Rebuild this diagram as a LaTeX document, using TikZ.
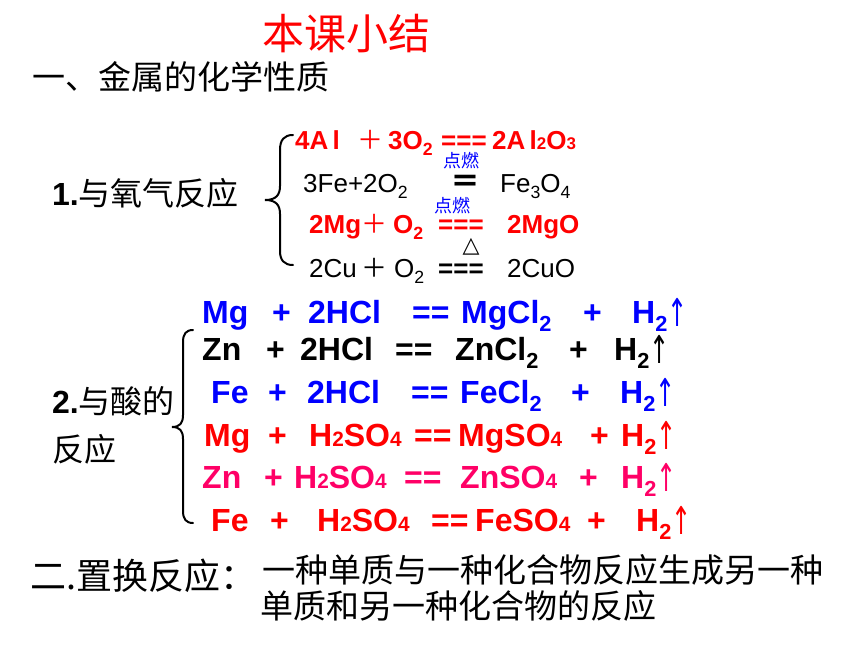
\documentclass[tikz,border=0pt]{standalone}
\usepackage{fontspec}
\setmainfont{Liberation Sans}
\newfontfamily\cjk{Noto Sans CJK SC}
\newfontfamily\symf{DejaVu Sans}
\definecolor{eqred}{RGB}{255,0,0}
\definecolor{eqblue}{RGB}{0,0,255}
\definecolor{eqpink}{RGB}{255,0,102}
\newcommand{\dn}[1]{\raisebox{-0.25em}{\scalebox{0.68}{#1}}}
\newcommand{\sm}[1]{\scalebox{0.65}{#1}}
\newcommand{\gas}{\raisebox{-0.12em}{\scalebox{0.75}[1.2]{\symf\mdseries ↑}}}
\tikzset{
  acid/.style={anchor=base west, inner sep=0pt, font=\fontsize{32}{32}\selectfont\bfseries},
  oxy/.style={anchor=base west, inner sep=0pt, font=\fontsize{26}{26}\selectfont},
  cond/.style={inner sep=0pt, text=eqblue, font=\cjk\fontsize{18}{18}\selectfont},
  zh/.style={anchor=west, inner sep=0pt, font=\cjk\fontsize{33}{33}\selectfont},
  bracket/.style={line width=2pt, line cap=round},
}

\begin{document}
\begin{tikzpicture}[x=1pt, y=-1pt]
		\useasboundingbox (0,0) rectangle (860,645);
		
		%%%%% HEADINGS %%%%%
		\node[zh, text=eqred, font=\cjk\fontsize{42}{42}\selectfont] (title) at (262,34) {本课小结};
		\node[zh] (partone) at (32,77) {一、金属的化学性质};
		
		%%%%% 1. OXYGEN %%%%%
		\node[zh, font=\cjk\fontsize{32}{32}\selectfont] (oxlabel) at (52,193) {{\normalfont\fontsize{32}{32}\selectfont\bfseries 1.}与氧气反应};
		\draw[bracket] (293,135) .. controls (284,135) and (280,140) .. (280,150) -- (280,186) .. controls (280,195) and (276,200) .. (265,200) .. controls (276,200) and (280,205) .. (280,214) -- (280,251) .. controls (280,260) and (284,265) .. (293,265);
		
		\node[oxy, text=eqred, font=\fontsize{26}{26}\selectfont\bfseries] (alA) at (295,149) {4A\,l};
		\node[oxy, text=eqred, font=\cjk\fontsize{26}{26}\selectfont] (alB) at (357,149) {＋};
		\node[oxy, text=eqred, font=\fontsize{26}{26}\selectfont\bfseries] (alC) at (388,149) {3O\dn{2}};
		\node[oxy, text=eqred, font=\fontsize{26}{26}\selectfont\bfseries] (alD) at (441,149) {===};
		\node[oxy, text=eqred, font=\fontsize{26}{26}\selectfont\bfseries] (alE) at (492,149) {2A\,l\sm{2}O\sm{3}};
		
		\node[cond] (fireA) at (461,161) {点燃};
		\node[oxy] (feA) at (303,192) {3Fe+2O\dn{2}};
		\node[oxy, font=\cjk\fontsize{30}{30}\selectfont\bfseries] (feB) at (450,192) {＝};
		\node[oxy] (feC) at (500,192) {Fe\dn{3}O\dn{4}};
		
		\node[cond] (fireB) at (452,206) {点燃};
		\node[oxy, text=eqred, font=\fontsize{26}{26}\selectfont\bfseries] (mgA) at (309,233) {2Mg};
		\node[oxy, text=eqred, font=\cjk\fontsize{26}{26}\selectfont] (mgB) at (361,233) {＋};
		\node[oxy, text=eqred, font=\fontsize{26}{26}\selectfont\bfseries] (mgC) at (393,233) {O\dn{2}};
		\node[oxy, text=eqred, font=\fontsize{26}{26}\selectfont\bfseries] (mgD) at (438,233) {===};
		\node[oxy, text=eqred, font=\fontsize{26}{26}\selectfont\bfseries] (mgE) at (507,233) {2MgO};
		
		\node[inner sep=0pt, font=\symf\fontsize{22}{22}\selectfont] (heat) at (471,247) {△};
		\node[oxy] (cuA) at (309,277) {2Cu};
		\node[oxy, font=\cjk\fontsize{26}{26}\selectfont] (cuB) at (361,277) {＋};
		\node[oxy] (cuC) at (394,277) {O\dn{2}};
		\node[oxy, font=\fontsize{26}{26}\selectfont\bfseries] (cuD) at (438,277) {===};
		\node[oxy] (cuE) at (507,277) {2CuO};
		
		%%%%% 2. ACIDS %%%%%
		\node[zh, font=\cjk\fontsize{32}{32}\selectfont] (aclabelA) at (52,401) {{\normalfont\fontsize{32}{32}\selectfont\bfseries 2.}与酸的};
		\node[zh, font=\cjk\fontsize{32}{32}\selectfont] (aclabelB) at (52,449) {反应};
		\draw[bracket] (193,330) .. controls (186,330) and (183,334) .. (183,342) -- (183,415) .. controls (183,423) and (180,427) .. (172,427) .. controls (180,427) and (183,431) .. (183,439) -- (183,511) .. controls (183,519) and (186,523) .. (193,523);
		
		\node[acid, text=eqblue] (r1a) at (202,323) {Mg};
		\node[acid, text=eqblue] (r1b) at (272,323) {+};
		\node[acid, text=eqblue] (r1c) at (308,323) {2HCl};
		\node[acid, text=eqblue] (r1d) at (412,323) {==};
		\node[acid, text=eqblue] (r1e) at (461,323) {MgCl\dn{2}};
		\node[acid, text=eqblue] (r1f) at (583,323) {+};
		\node[acid, text=eqblue] (r1g) at (632,323) {H\dn{2}\gas};
		
		\node[acid] (r2a) at (202,360) {Zn};
		\node[acid] (r2b) at (266,360) {+};
		\node[acid] (r2c) at (300,360) {2HCl};
		\node[acid] (r2d) at (395,360) {==};
		\node[acid] (r2e) at (455,360) {ZnCl\dn{2}};
		\node[acid] (r2f) at (569,360) {+};
		\node[acid] (r2g) at (614,360) {H\dn{2}\gas};
		
		\node[acid, text=eqblue] (r3a) at (211,403) {Fe};
		\node[acid, text=eqblue] (r3b) at (268,403) {+};
		\node[acid, text=eqblue] (r3c) at (307,403) {2HCl};
		\node[acid, text=eqblue] (r3d) at (411,403) {==};
		\node[acid, text=eqblue] (r3e) at (460,403) {FeCl\dn{2}};
		\node[acid, text=eqblue] (r3f) at (571,403) {+};
		\node[acid, text=eqblue] (r3g) at (620,403) {H\dn{2}\gas};
		
		\node[acid, text=eqred] (r4a) at (204,446) {Mg};
		\node[acid, text=eqred] (r4b) at (268,446) {+};
		\node[acid, text=eqred] (r4c) at (309,446) {H\sm{2}SO\sm{4}};
		\node[acid, text=eqred] (r4d) at (414,446) {==};
		\node[acid, text=eqred] (r4e) at (458,446) {MgSO\sm{4}};
		\node[acid, text=eqred] (r4f) at (590,446) {+};
		\node[acid, text=eqred] (r4g) at (621,446) {H\dn{2}\gas};
		
		\node[acid, text=eqpink] (r5a) at (202,488) {Zn};
		\node[acid, text=eqpink] (r5b) at (264,488) {+};
		\node[acid, text=eqpink] (r5c) at (294,488) {H\sm{2}SO\sm{4}};
		\node[acid, text=eqpink] (r5d) at (404,488) {==};
		\node[acid, text=eqpink] (r5e) at (460,488) {ZnSO\sm{4}};
		\node[acid, text=eqpink] (r5f) at (579,488) {+};
		\node[acid, text=eqpink] (r5g) at (621,488) {H\dn{2}\gas};
		
		\node[acid, text=eqred] (r6a) at (211,531) {Fe};
		\node[acid, text=eqred] (r6b) at (270,531) {+};
		\node[acid, text=eqred] (r6c) at (317,531) {H\sm{2}SO\sm{4}};
		\node[acid, text=eqred] (r6d) at (431,531) {==};
		\node[acid, text=eqred] (r6e) at (475,531) {FeSO\sm{4}};
		\node[acid, text=eqred] (r6f) at (587,531) {+};
		\node[acid, text=eqred] (r6g) at (636,531) {H\dn{2}\gas};
		
		%%%%% PART TWO %%%%%
		\node[zh, font=\cjk\fontsize{36}{36}\selectfont] (parttwo) at (30,576) {二.置换反应：};
		\node[zh] (defA) at (262,570) {一种单质与一种化合物反应生成另一种};
		\node[zh] (defB) at (260,606) {单质和另一种化合物的反应};
		
	\end{tikzpicture}
\end{document}
